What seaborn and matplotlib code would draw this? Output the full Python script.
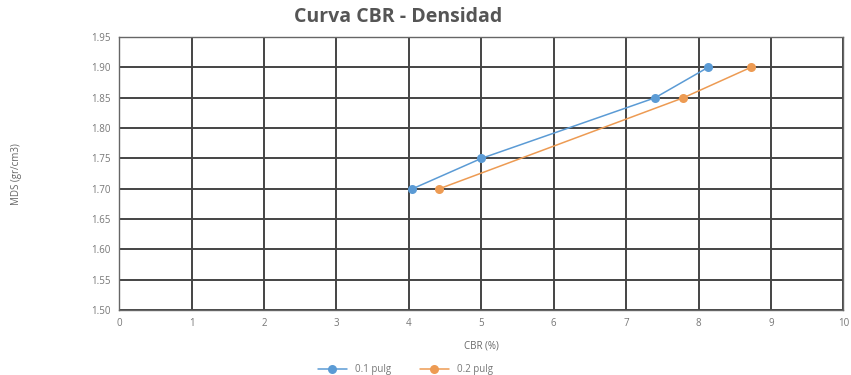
import matplotlib
matplotlib.use("Agg")
import matplotlib.pyplot as plt
import seaborn as sns
import pandas as pd
import numpy as np

# CBR (%) versus dry density (gr/cm3) for the two penetration depths
cbr_01 = [4.05, 5.0, 7.4, 8.13]
dens_01 = [1.70, 1.75, 1.85, 1.90]
cbr_02 = [4.42, 7.79, 8.72]
dens_02 = [1.70, 1.85, 1.90]
series_names = ["0.1 pulg", "0.2 pulg"]
x_ticks = list(range(0, 11))
y_ticks = [1.50, 1.55, 1.60, 1.65, 1.70, 1.75, 1.80, 1.85, 1.90, 1.95]

df = pd.concat([
    pd.DataFrame({"CBR": cbr_01, "Densidad": dens_01, "Serie": series_names[0]}),
    pd.DataFrame({"CBR": cbr_02, "Densidad": dens_02, "Serie": series_names[1]}),
])

sns.set_theme(style="white")
plt.rcParams["font.family"] = ["Open Sans", "DejaVu Sans"]

fig = plt.figure(figsize=(8.51, 3.75), dpi=100)
ax = fig.add_axes([0.14, 0.173, 0.851, 0.728])

palette = {series_names[0]: "#5b9bd5", series_names[1]: "#ed9b53"}
sns.lineplot(data=df, x="CBR", y="Densidad", hue="Serie", palette=palette,
             marker="o", markersize=6.5, linewidth=1.1, sort=False,
             markeredgewidth=0, ax=ax, zorder=3)

ax.set_xlim(0, 10)
ax.set_ylim(1.50, 1.95)
ax.set_xticks(x_ticks)
ax.set_yticks(y_ticks)
ax.set_yticklabels([f"{v:.2f}" for v in y_ticks])
ax.grid(True, color="#444444", linewidth=1.4, zorder=0)
ax.set_axisbelow(True)
for s in ax.spines.values():
    s.set_color("#666666")
    s.set_linewidth(1.0)
ax.tick_params(axis="both", labelsize=7, colors="#777777", length=0, pad=6)

fig.text(0.468, 0.955, "Curva CBR - Densidad", fontsize=14, fontweight="bold",
         color="#555555", ha="center", va="center")
ax.set_xlabel("CBR (%)", fontsize=7, color="#666666", labelpad=8)
ax.set_ylabel("MDS (gr/cm3)", fontsize=7, color="#666666", labelpad=50)

ax.legend(loc="upper center", bbox_to_anchor=(0.395, -0.165), ncol=2, frameon=False,
          fontsize=7, labelcolor="#777777", handlelength=3, columnspacing=3)

fig.savefig("out.png", dpi=100)
